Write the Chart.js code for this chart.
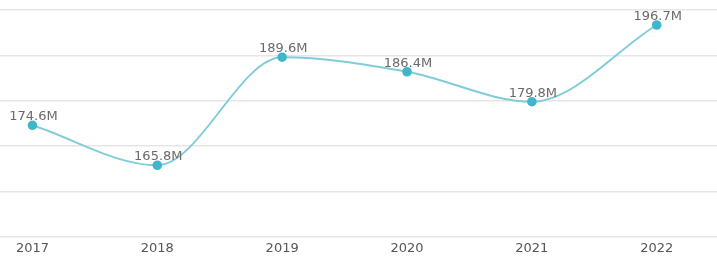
<!DOCTYPE html>
<html>
<head>
<meta charset="utf-8">
<script src="https://cdn.jsdelivr.net/npm/chart.js@4"></script>
<style>
  html, body { margin: 0; padding: 0; background: #fff; }
  #wrap { width: 717px; height: 259px; }
</style>
</head>
<body>
<div id="wrap"><canvas id="chart"></canvas></div>
<script>
// Data
const years = ["2017", "2018", "2019", "2020", "2021", "2022"];
const values = [174.6, 165.8, 189.6, 186.4, 179.8, 196.7];
const valueLabels = ["174.6M", "165.8M", "189.6M", "186.4M", "179.8M", "196.7M"];

const FONT = "'DejaVu Sans', sans-serif";

// Draws the value text above every point
const pointLabels = {
    id: "pointLabels",
    afterDatasetsDraw(chart) {
        const ctx = chart.ctx;
        const meta = chart.getDatasetMeta(0);
        ctx.save();
        ctx.font = "13px " + FONT;
        ctx.fillStyle = "#6a6a6a";
        ctx.textAlign = "center";
        ctx.textBaseline = "bottom";
        meta.data.forEach((pt, i) => {
            ctx.fillText(valueLabels[i], pt.x + 1, pt.y - 2);
        });
        ctx.restore();
    }
};

new Chart(document.getElementById("chart"), {
    type: "line",
    data: {
        datasets: [{
            data: values.map((v, i) => ({ x: i, y: v })),
            borderColor: "#80cdd9",
            borderWidth: 2,
            pointBackgroundColor: "#3fb6c9",
            pointBorderColor: "#3fb6c9",
            pointRadius: 3.8,
            cubicInterpolationMode: "monotone",
            fill: false
        }]
    },
    options: {
        responsive: true,
        maintainAspectRatio: false,
        animation: false,
        layout: { autoPadding: false, padding: { top: 10, bottom: 0, left: 0, right: 0 } },
        plugins: { legend: { display: false }, tooltip: { enabled: false } },
        scales: {
            x: {
                type: "linear",
                min: -0.26,
                max: 5.483,
                afterBuildTicks: axis => { axis.ticks = years.map((_, i) => ({ value: i })); },
                afterFit: axis => { axis.height = 22; },
                ticks: {
                    callback: v => years[v],
                    color: "#555",
                    font: { family: FONT, size: 13 },
                    padding: 4,
                    maxRotation: 0,
                    autoSkip: false
                },
                grid: { display: false, drawTicks: false },
                border: { display: false }
            },
            y: {
                min: 150,
                max: 200,
                afterFit: axis => { axis.width = 0; },
                ticks: { display: false, stepSize: 10 },
                grid: { color: "#e6e6e6", lineWidth: 1.5, drawTicks: false },
                border: { display: false }
            }
        }
    },
    plugins: [pointLabels]
});
</script>
</body>
</html>
